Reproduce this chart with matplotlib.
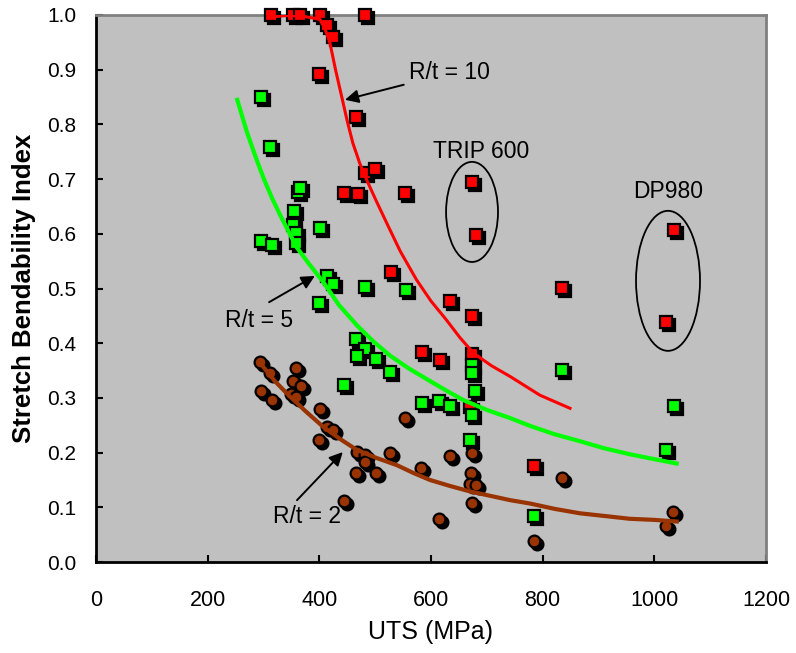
import matplotlib
matplotlib.use("Agg")
import matplotlib.pyplot as plt
from matplotlib.patches import Ellipse
from matplotlib.transforms import offset_copy

plt.rcParams['font.family'] = ['Liberation Sans', 'DejaVu Sans']

# ---- data ----
red_x = [314, 353, 365, 401, 482, 413, 424, 400, 466, 482, 500, 445, 469, 553, 673,
         680, 528, 634, 674, 583, 617, 674, 669, 1036, 1021, 835, 785]
red_y = [1.0, 1.0, 1.0, 1.0, 1.0, 0.982, 0.960, 0.892, 0.814, 0.712, 0.718, 0.675, 0.673,
         0.675, 0.695, 0.598, 0.530, 0.477, 0.450, 0.383, 0.369, 0.380, 0.283, 0.607,
         0.438, 0.501, 0.175]

green_x = [295, 312, 362, 365, 355, 353, 358, 359, 401, 296, 316, 413, 425, 400, 482,
           555, 466, 482, 467, 501, 527, 674, 674, 445, 679, 583, 615, 634, 674, 670,
           835, 1036, 1021, 785]
green_y = [0.851, 0.759, 0.677, 0.684, 0.642, 0.617, 0.601, 0.584, 0.610, 0.587, 0.579,
           0.522, 0.508, 0.473, 0.502, 0.497, 0.407, 0.389, 0.377, 0.372, 0.347, 0.360,
           0.345, 0.324, 0.313, 0.291, 0.294, 0.286, 0.269, 0.223, 0.351, 0.285, 0.205,
           0.085]

brown_x = [294, 312, 296, 316, 359, 352, 367, 349, 359, 401, 413, 425, 400, 467, 482,
           482, 466, 501, 527, 553, 582, 634, 674, 671, 669, 680, 673, 445, 615, 835,
           1034, 1021, 785]
brown_y = [0.365, 0.345, 0.313, 0.296, 0.355, 0.331, 0.322, 0.308, 0.302, 0.280, 0.246,
           0.241, 0.223, 0.202, 0.196, 0.183, 0.163, 0.163, 0.200, 0.264, 0.171, 0.193,
           0.200, 0.163, 0.143, 0.141, 0.108, 0.112, 0.079, 0.154, 0.091, 0.065, 0.038]

# trend curves
red_fit_x = [312, 340, 370, 401, 410, 419, 429, 440, 450, 460, 472, 485, 502, 521, 545,
             574, 600, 628, 652, 676, 708, 742, 795, 849]
red_fit_y = [0.996, 0.999, 0.998, 0.992, 0.975, 0.949, 0.900, 0.851, 0.806, 0.766, 0.730,
             0.698, 0.660, 0.619, 0.568, 0.516, 0.477, 0.442, 0.410, 0.382, 0.359, 0.339,
             0.305, 0.281]
green_fit_x = [253, 270, 285, 300, 315, 330, 345, 359, 380, 407, 435, 467, 497, 527, 560,
               598, 628, 658, 700, 742, 777, 820, 866, 910, 956, 1000, 1040]
green_fit_y = [0.845, 0.787, 0.743, 0.702, 0.666, 0.634, 0.604, 0.576, 0.547, 0.512, 0.470,
               0.433, 0.403, 0.377, 0.354, 0.331, 0.313, 0.296, 0.278, 0.263, 0.249, 0.234,
               0.221, 0.208, 0.197, 0.188, 0.180]
brown_fit_x = [297, 320, 342, 375, 407, 437, 467, 503, 539, 568, 598, 634, 670, 706, 742,
               777, 822, 867, 912, 956, 1000, 1040]
brown_fit_y = [0.360, 0.331, 0.308, 0.276, 0.247, 0.225, 0.205, 0.190, 0.177, 0.163, 0.150,
               0.139, 0.129, 0.121, 0.113, 0.107, 0.097, 0.089, 0.084, 0.079, 0.077, 0.074]

x_ticks = [0, 200, 400, 600, 800, 1000, 1200]
y_ticks = [0.0, 0.1, 0.2, 0.3, 0.4, 0.5, 0.6, 0.7, 0.8, 0.9, 1.0]

fig = plt.figure(figsize=(7.96, 6.53), dpi=100)
ax = fig.add_axes([96/796, 1-562/653, 670/796, 547/653])
ax.set_facecolor('#C0C0C0')
ax.set_xlim(0, 1200)
ax.set_ylim(0, 1.0)

shadow = offset_copy(ax.transData, fig=fig, x=3, y=-3, units='dots')

def scatter_series(xs, ys, marker, color, ms):
    ax.plot(xs, ys, linestyle='none', marker=marker, ms=ms, mfc='black', mec='black',
            mew=1.6, transform=shadow, clip_on=False, zorder=3)
    ax.plot(xs, ys, linestyle='none', marker=marker, ms=ms, mfc=color, mec='black',
            mew=1.6, clip_on=False, zorder=4)

scatter_series(red_x, red_y, 's', '#FF0000', 8)
scatter_series(green_x, green_y, 's', '#00FF00', 8)
scatter_series(brown_x, brown_y, 'o', '#993300', 8.5)

ax.plot(red_fit_x, red_fit_y, color='#FF0000', lw=2.2, zorder=5)
ax.plot(green_fit_x, green_fit_y, color='#00FF00', lw=3, zorder=5)
ax.plot(brown_fit_x, brown_fit_y, color='#993300', lw=3, zorder=5)

# annotations
fs_ann = 16.5
arrow = dict(arrowstyle='-|>', color='black', lw=1.4, mutation_scale=20)
ax.annotate('R/t = 10', xy=(446, 0.845), xytext=(561, 0.894), fontsize=fs_ann,
            va='center', ha='left', arrowprops=dict(arrow, shrinkA=2, shrinkB=0), zorder=6)
ax.annotate('', xy=(392, 0.523), xytext=(310, 0.475),
            arrowprops=dict(arrow, shrinkA=0, shrinkB=0), zorder=6)
ax.text(231, 0.441, 'R/t = 5', fontsize=fs_ann, va='center', ha='left', zorder=6)
ax.annotate('', xy=(442, 0.201), xytext=(360, 0.113),
            arrowprops=dict(arrow, shrinkA=0, shrinkB=0), zorder=6)
ax.text(317, 0.083, 'R/t = 2', fontsize=fs_ann, va='center', ha='left', zorder=6)

ax.text(690, 0.750, 'TRIP 600', fontsize=fs_ann, va='center', ha='center', zorder=6)
ax.text(1024, 0.678, 'DP980', fontsize=fs_ann, va='center', ha='center', zorder=6)
ax.add_patch(Ellipse((673.5, 0.640), 93, 0.183, fill=False, ec='black', lw=1.3, zorder=6))
ax.add_patch(Ellipse((1024.5, 0.514), 114.6, 0.256, fill=False, ec='black', lw=1.3, zorder=6))

# axes styling
ax.set_xticks(x_ticks)
ax.set_xticklabels([str(v) for v in x_ticks])
ax.set_yticks(y_ticks)
ax.set_yticklabels([f'{v:.1f}' for v in y_ticks])
ax.tick_params(axis='x', direction='in', length=5, width=1.5, pad=20, labelsize=15.5)
ax.tick_params(axis='y', direction='in', length=5, width=1.5, pad=14, labelsize=15)
for s in ['left', 'bottom']:
    ax.spines[s].set_color('black')
    ax.spines[s].set_linewidth(2)
for s in ['top', 'right']:
    ax.spines[s].set_color('#808080')
    ax.spines[s].set_linewidth(2)

ax.set_xlabel('UTS (MPa)', fontsize=18, labelpad=7)
ax.set_ylabel('Stretch Bendability Index', fontsize=18.5, fontweight='bold', labelpad=8)

fig.savefig('out.png', dpi=100)
